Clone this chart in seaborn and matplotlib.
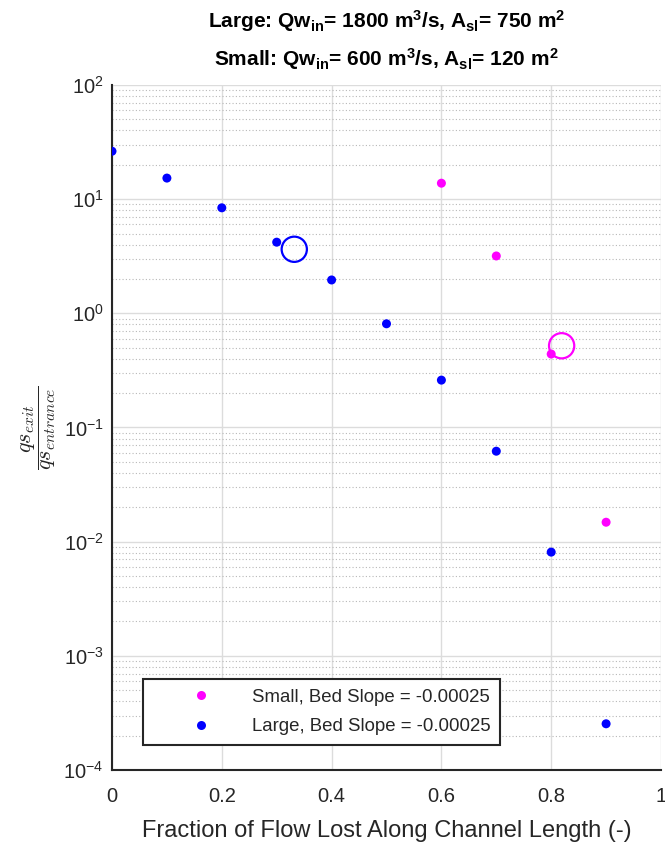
import numpy as np
import pandas as pd
import matplotlib
matplotlib.use("Agg")
import matplotlib.pyplot as plt
import seaborn as sns
from matplotlib.ticker import LogLocator, NullFormatter, FixedLocator

# ---- data ----
large_x = [0.0, 0.1, 0.2, 0.3, 0.4, 0.5, 0.6, 0.7, 0.8, 0.9]
large_y = [26.3, 15.3, 8.4, 4.2, 1.96, 0.81, 0.26, 0.062, 0.0081, 0.000254]
small_x = [0.6, 0.7, 0.8, 0.9]
small_y = [13.8, 3.18, 0.44, 0.0148]
large_mark_x = [0.332]
large_mark_y = [3.64]
small_mark_x = [0.819]
small_mark_y = [0.52]
series_labels = ["Small, Bed Slope = -0.00025", "Large, Bed Slope = -0.00025"]
x_ticks = [0, 0.2, 0.4, 0.6, 0.8, 1.0]
x_ticklabels = ["0", "0.2", "0.4", "0.6", "0.8", "1"]
title_lines = [r"Large: Qw$_\mathbf{in}$= 1800 m$^\mathbf{3}$/s, A$_\mathbf{sl}$= 750 m$^\mathbf{2}$",
               r"Small: Qw$_\mathbf{in}$= 600 m$^\mathbf{3}$/s, A$_\mathbf{sl}$= 120 m$^\mathbf{2}$"]
x_label = "Fraction of Flow Lost Along Channel Length (-)"
y_label = r"$\dfrac{qs_{exit}}{qs_{entrance}}$"

sns.set_theme(style="white")
plt.rcParams["font.family"] = ["Liberation Sans", "DejaVu Sans"]
plt.rcParams["mathtext.fontset"] = "custom"
plt.rcParams["mathtext.rm"] = "Liberation Sans"
plt.rcParams["mathtext.it"] = "Liberation Sans:italic"
plt.rcParams["mathtext.bf"] = "Liberation Sans:bold"

df = pd.DataFrame({
    "x": small_x + large_x,
    "y": small_y + large_y,
    "series": [series_labels[0]] * len(small_x) + [series_labels[1]] * len(large_x),
})
palette = {series_labels[0]: "#FF00FF", series_labels[1]: "#0000FF"}

W, H = 665, 843
fig = plt.figure(figsize=(W / 100, H / 100), dpi=100)
ax = fig.add_axes([112 / W, 1 - 770 / H, (661 - 112) / W, (770 - 85) / H])

sns.scatterplot(data=df, x="x", y="y", hue="series", hue_order=series_labels,
                palette=palette, s=42, linewidth=0, ax=ax, zorder=3)
ax.scatter(large_mark_x, large_mark_y, s=330, facecolors="none",
           edgecolors="#0000FF", linewidths=1.6, zorder=3)
ax.scatter(small_mark_x, small_mark_y, s=330, facecolors="none",
           edgecolors="#FF00FF", linewidths=1.6, zorder=3)

ax.set_yscale("log")
ax.set_ylim(1e-4, 1e2)
ax.set_xlim(0, 1)
ax.xaxis.set_major_locator(FixedLocator(x_ticks))
ax.set_xticklabels(x_ticklabels)
ax.yaxis.set_major_locator(LogLocator(base=10, numticks=10))
ax.yaxis.set_minor_locator(LogLocator(base=10, subs=np.arange(2, 10), numticks=100))
ax.yaxis.set_minor_formatter(NullFormatter())

ax.grid(True, which="major", axis="both", color="#dcdcdc", linewidth=1.0, linestyle="-")
ax.grid(True, which="minor", axis="y", color="#b8b8b8", linewidth=0.8, linestyle=(0, (1, 2)))
ax.set_axisbelow(True)

for s in ["top", "right"]:
    ax.spines[s].set_visible(False)
for s in ["left", "bottom"]:
    ax.spines[s].set_color("#262626")
    ax.spines[s].set_linewidth(1.5)

ax.tick_params(axis="both", which="major", direction="in", length=5, width=1.2,
               color="#262626", labelsize=14.5, labelcolor="#262626", pad=6)
ax.tick_params(axis="y", which="minor", direction="in", length=3, width=1.0, color="#262626")
ax.tick_params(axis="x", which="major", length=0, pad=12)

ax.set_xlabel(x_label, fontsize=17, color="#262626", labelpad=10)
ax.set_ylabel(y_label, fontsize=16, color="#262626", math_fontfamily="cm", labelpad=4)

cx = (112 + 661) / 2 / W
fig.text(cx, 1 - 21 / H, title_lines[0], ha="center", va="center",
         fontsize=15, fontweight="bold", color="#000000")
fig.text(cx, 1 - 59 / H, title_lines[1], ha="center", va="center",
         fontsize=15, fontweight="bold", color="#000000")

leg = ax.legend(loc="lower left", bbox_to_anchor=((143 - 112) / 549, (770 - 745) / 685),
                fontsize=13.4, frameon=True, fancybox=False, handletextpad=0.15,
                borderpad=0.53, labelspacing=0.67, handlelength=5.17, borderaxespad=0)
leg.get_frame().set_edgecolor("#262626")
leg.get_frame().set_linewidth(1.5)
leg.get_frame().set_facecolor("white")
leg.get_frame().set_alpha(1)

fig.savefig("out.png", dpi=100)
